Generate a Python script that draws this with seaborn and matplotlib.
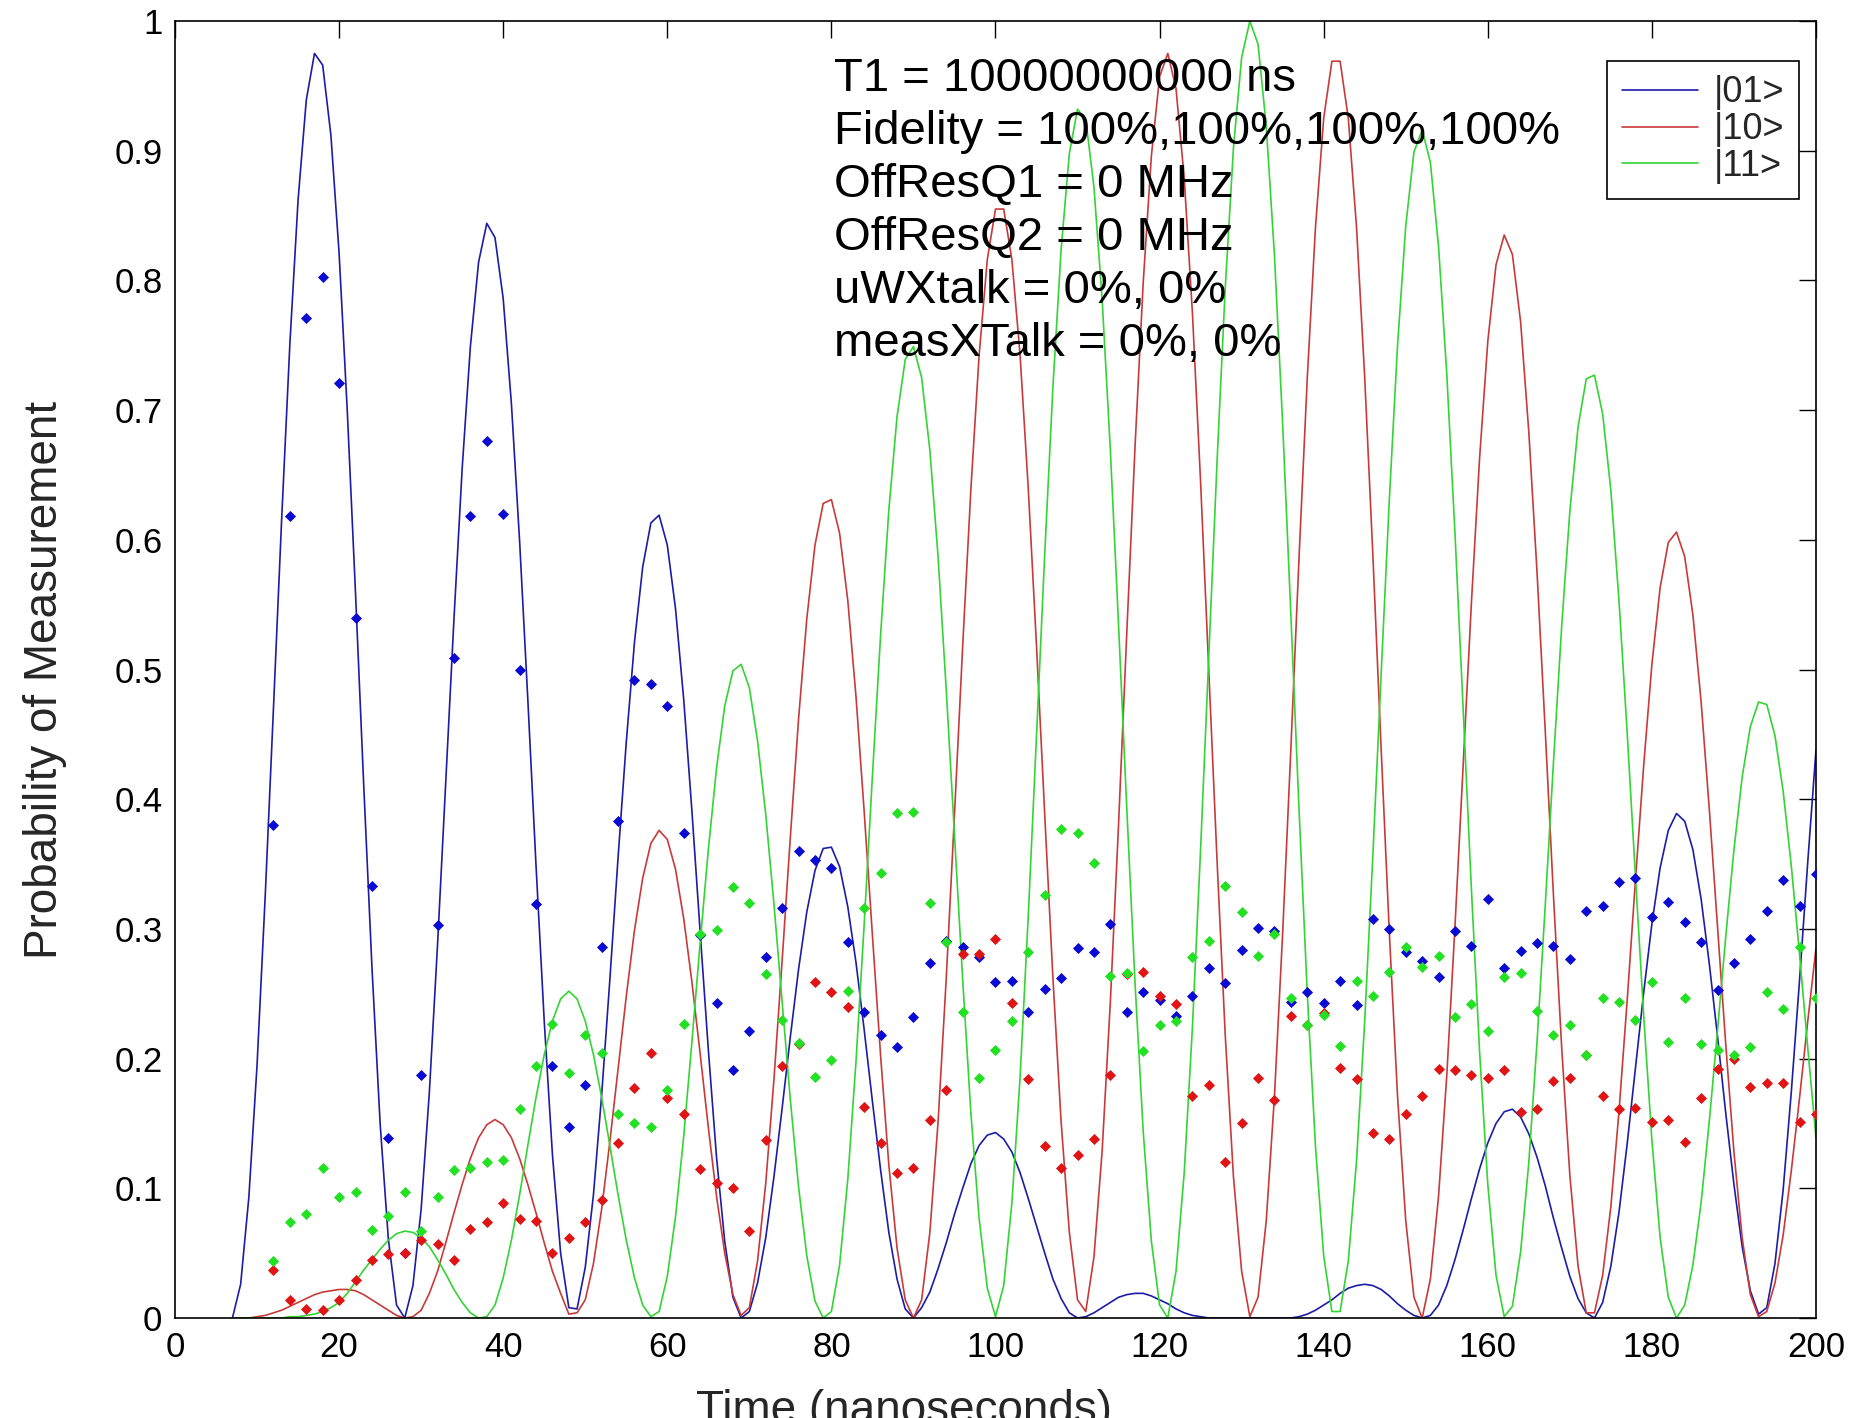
import numpy as np
import pandas as pd
import matplotlib
matplotlib.use("Agg")
import matplotlib.pyplot as plt
import seaborn as sns
from matplotlib.lines import Line2D

# ---------------- data ----------------
states = ["|01>", "|10>", "|11>"]

# simulated curves, t = 7 .. 200 ns (1 ns steps)
t_curve = list(range(7, 201))
p01_curve = [
    0.000, 0.026, 0.093, 0.195, 0.326, 0.470, 0.616, 0.751, 0.862, 0.939, 0.975,
    0.966, 0.912, 0.821, 0.699, 0.559, 0.411, 0.271, 0.150, 0.061, 0.010, 0.000,
    0.025, 0.084, 0.174, 0.288, 0.413, 0.539, 0.655, 0.749, 0.814, 0.844,
    0.833, 0.786, 0.705, 0.599, 0.477, 0.349, 0.229, 0.126, 0.050, 0.008,
    0.007, 0.039, 0.095, 0.172, 0.261, 0.355, 0.444, 0.521, 0.579, 0.613, 0.619,
    0.596, 0.547, 0.477, 0.391, 0.298, 0.207, 0.124, 0.059, 0.016, 0.000,
    0.005, 0.027, 0.062, 0.109, 0.162, 0.217, 0.269, 0.313, 0.345, 0.362, 0.363,
    0.348, 0.317, 0.274, 0.222, 0.167, 0.114, 0.066, 0.030, 0.007, 0.000,
    0.008, 0.020, 0.038, 0.058, 0.080, 0.100, 0.119, 0.133, 0.141, 0.143,
    0.138, 0.128, 0.112, 0.092, 0.071, 0.050, 0.030, 0.015, 0.004, 0.000,
    0.001, 0.004, 0.008, 0.012, 0.016, 0.018, 0.019, 0.019, 0.017, 0.014, 0.011,
    0.007, 0.004, 0.002, 0.001, 0.000, 0.000, 0.000, 0.000, 0.000, 0.000, 0.000,
    0.000, 0.000, 0.000, 0.000,
    0.001, 0.003, 0.006, 0.010, 0.014, 0.019, 0.023, 0.025, 0.026, 0.025, 0.022,
    0.017, 0.011, 0.006, 0.002, 0.000,
    0.002, 0.010, 0.025, 0.045, 0.068, 0.092, 0.115, 0.135, 0.150, 0.159, 0.161,
    0.155, 0.142, 0.124, 0.102, 0.077, 0.054, 0.032, 0.015, 0.004, 0.000,
    0.012, 0.040, 0.082, 0.135, 0.193, 0.251, 0.304, 0.347, 0.376, 0.389,
    0.383, 0.361, 0.323, 0.273, 0.217, 0.158, 0.103, 0.055, 0.021, 0.003,
    0.008, 0.042, 0.099, 0.175, 0.261, 0.352, 0.438,
]
p10_curve = [
    0.000, 0.000, 0.000, 0.001, 0.002, 0.004, 0.006, 0.009, 0.012, 0.015, 0.018,
    0.020, 0.021, 0.022, 0.022, 0.021, 0.018, 0.014, 0.010, 0.006, 0.002, 0.000,
    0.001, 0.006, 0.019, 0.036, 0.058, 0.081, 0.103, 0.123, 0.139, 0.149,
    0.153, 0.149, 0.139, 0.123, 0.103, 0.081, 0.058, 0.036, 0.019, 0.003,
    0.004, 0.014, 0.042, 0.084, 0.136, 0.192, 0.248, 0.299, 0.339, 0.366, 0.376,
    0.369, 0.346, 0.308, 0.259, 0.204, 0.147, 0.094, 0.050, 0.018, 0.002,
    0.008, 0.044, 0.104, 0.184, 0.276, 0.371, 0.462, 0.539, 0.596, 0.628, 0.631,
    0.605, 0.553, 0.479, 0.390, 0.295, 0.202, 0.118, 0.054, 0.014, 0.000,
    0.014, 0.066, 0.151, 0.262, 0.388, 0.518, 0.639, 0.742, 0.816, 0.855,
    0.855, 0.816, 0.742, 0.639, 0.518, 0.388, 0.262, 0.151, 0.066, 0.014,
    0.005, 0.047, 0.129, 0.244, 0.381, 0.528, 0.671, 0.798, 0.896, 0.957, 0.975,
    0.948, 0.879, 0.775, 0.644, 0.499, 0.353, 0.218, 0.109, 0.036, 0.001,
    0.016, 0.075, 0.171, 0.297, 0.439, 0.587, 0.725, 0.841, 0.925, 0.969, 0.969,
    0.925, 0.841, 0.725, 0.587, 0.439, 0.297, 0.171, 0.075, 0.016, 0.000,
    0.030, 0.094, 0.187, 0.302, 0.427, 0.551, 0.663, 0.753, 0.812, 0.835,
    0.820, 0.768, 0.683, 0.575, 0.453, 0.326, 0.209, 0.110, 0.040, 0.004,
    0.004, 0.033, 0.086, 0.160, 0.246, 0.338, 0.426, 0.504, 0.563, 0.598, 0.606,
    0.587, 0.542, 0.475, 0.392, 0.301, 0.211, 0.128, 0.062, 0.018, 0.001,
    0.005, 0.027, 0.064, 0.114, 0.170, 0.229, 0.285,
]
p11_curve = [
    0.000, 0.000, 0.000, 0.000, 0.000, 0.000,
    0.000, 0.001, 0.001, 0.002, 0.003, 0.005, 0.008, 0.012, 0.019, 0.028, 0.037,
    0.045, 0.053, 0.060, 0.065, 0.067, 0.066, 0.062, 0.055, 0.045, 0.034, 0.022,
    0.012, 0.004, 0.000,
    0.001, 0.010, 0.031, 0.060, 0.095, 0.133, 0.170, 0.203, 0.229, 0.246, 0.252,
    0.246, 0.229, 0.203, 0.170, 0.133, 0.095, 0.060, 0.031, 0.010, 0.001,
    0.005, 0.032, 0.078, 0.140, 0.213, 0.289, 0.361, 0.424, 0.472, 0.499, 0.504,
    0.486, 0.445, 0.388, 0.319, 0.243, 0.168, 0.101, 0.048, 0.013, 0.000,
    0.005, 0.041, 0.107, 0.198, 0.304, 0.418, 0.527, 0.623, 0.695, 0.739, 0.749,
    0.725, 0.669, 0.587, 0.484, 0.372, 0.261, 0.158, 0.077, 0.023, 0.001,
    0.025, 0.089, 0.186, 0.311, 0.449, 0.589, 0.718, 0.824, 0.898, 0.932, 0.924,
    0.872, 0.785, 0.669, 0.534, 0.393, 0.259, 0.144, 0.059, 0.010, 0.000,
    0.036, 0.112, 0.224, 0.362, 0.512, 0.660, 0.794, 0.902, 0.972, 1.000,
    0.982, 0.919, 0.819, 0.689, 0.542, 0.391, 0.250, 0.132, 0.048, 0.005,
    0.005, 0.044, 0.121, 0.229, 0.358, 0.496, 0.631, 0.750, 0.842, 0.899, 0.916,
    0.891, 0.826, 0.728, 0.605, 0.469, 0.331, 0.205, 0.103, 0.033, 0.001,
    0.009, 0.051, 0.120, 0.213, 0.318, 0.428, 0.533, 0.622, 0.687, 0.724, 0.727,
    0.697, 0.638, 0.552, 0.450, 0.340, 0.233, 0.137, 0.062, 0.016, 0.000,
    0.010, 0.041, 0.089, 0.152, 0.222, 0.294, 0.361, 0.417, 0.456, 0.475, 0.473,
    0.449, 0.406, 0.348, 0.280, 0.208, 0.139,
]

# measured points, t = 12 .. 200 ns (2 ns steps)
t_meas = list(range(12, 201, 2))
p01_meas = [
    0.380, 0.618, 0.771, 0.803, 0.721, 0.540, 0.333, 0.139, 0.050, 0.187,
    0.303, 0.509, 0.618, 0.676, 0.620, 0.500, 0.319, 0.194, 0.147, 0.180,
    0.286, 0.383, 0.492, 0.489, 0.472, 0.374, 0.295, 0.243, 0.191, 0.221,
    0.278, 0.316, 0.360, 0.353, 0.347, 0.290, 0.236, 0.218, 0.209, 0.232,
    0.274, 0.291, 0.286, 0.278, 0.259, 0.260, 0.236, 0.254, 0.262, 0.285,
    0.282, 0.304, 0.236, 0.251, 0.245, 0.233, 0.248, 0.270, 0.258, 0.284,
    0.301, 0.298, 0.244, 0.251, 0.243, 0.260, 0.241, 0.308, 0.300, 0.282,
    0.275, 0.263, 0.298, 0.287, 0.323, 0.270, 0.283, 0.289, 0.287, 0.277,
    0.314, 0.318, 0.336, 0.339, 0.309, 0.321, 0.305, 0.290, 0.253, 0.274,
    0.292, 0.314, 0.338, 0.318, 0.342,
]
p10_meas = [
    0.037, 0.014, 0.007, 0.006, 0.014, 0.029, 0.045, 0.049, 0.050, 0.060,
    0.057, 0.045, 0.069, 0.074, 0.089, 0.076, 0.075, 0.050, 0.062, 0.074,
    0.091, 0.135, 0.177, 0.204, 0.170, 0.157, 0.115, 0.104, 0.100, 0.067,
    0.137, 0.194, 0.211, 0.259, 0.251, 0.240, 0.163, 0.135, 0.112, 0.116,
    0.153, 0.176, 0.281, 0.281, 0.292, 0.243, 0.184, 0.133, 0.116, 0.126,
    0.138, 0.187, 0.265, 0.267, 0.248, 0.242, 0.171, 0.180, 0.120, 0.150,
    0.185, 0.168, 0.233, 0.226, 0.235, 0.193, 0.184, 0.143, 0.138, 0.157,
    0.171, 0.192, 0.191, 0.187, 0.185, 0.191, 0.159, 0.161, 0.183, 0.185,
    0.203, 0.171, 0.161, 0.162, 0.151, 0.153, 0.136, 0.170, 0.192, 0.200,
    0.178, 0.181, 0.181, 0.151, 0.157,
]
p11_meas = [
    0.044, 0.074, 0.080, 0.116, 0.093, 0.097, 0.068, 0.079, 0.097, 0.067,
    0.093, 0.114, 0.116, 0.120, 0.122, 0.161, 0.194, 0.227, 0.189, 0.218,
    0.204, 0.157, 0.150, 0.147, 0.176, 0.227, 0.296, 0.299, 0.332, 0.320,
    0.265, 0.230, 0.212, 0.186, 0.199, 0.252, 0.316, 0.343, 0.389, 0.390,
    0.320, 0.290, 0.236, 0.185, 0.207, 0.229, 0.282, 0.326, 0.377, 0.374,
    0.351, 0.264, 0.266, 0.206, 0.226, 0.229, 0.278, 0.291, 0.333, 0.313,
    0.279, 0.296, 0.247, 0.226, 0.234, 0.210, 0.260, 0.248, 0.267, 0.286,
    0.271, 0.279, 0.232, 0.242, 0.221, 0.263, 0.266, 0.237, 0.218, 0.226,
    0.203, 0.247, 0.244, 0.230, 0.259, 0.213, 0.247, 0.211, 0.207, 0.203,
    0.209, 0.251, 0.238, 0.286, 0.247,
]

x_ticks = list(range(0, 201, 20))
x_tick_labels = [str(v) for v in x_ticks]
y_ticks = [0, 0.1, 0.2, 0.3, 0.4, 0.5, 0.6, 0.7, 0.8, 0.9, 1]
y_tick_labels = ["0", "0.1", "0.2", "0.3", "0.4", "0.5", "0.6", "0.7", "0.8", "0.9", "1"]

info_lines = [
    "T1 = 10000000000 ns",
    "Fidelity = 100%,100%,100%,100%",
    "OffResQ1 = 0 MHz",
    "OffResQ2 = 0 MHz",
    "uWXtalk = 0%, 0%",
    "measXTalk = 0%, 0%",
]

# ---------------- styling ----------------
sns.set_style("white")
plt.rcParams["font.family"] = ["Liberation Sans", "DejaVu Sans"]

line_colors = {"|01>": "#1c1ca6", "|10>": "#c83a3a", "|11>": "#33d433"}
dot_colors = {"|01>": "#0a0ad2", "|10>": "#e01414", "|11>": "#22e022"}

curve_df = pd.concat([
    pd.DataFrame({"t": t_curve, "p": p01_curve, "state": "|01>"}),
    pd.DataFrame({"t": t_curve, "p": p10_curve, "state": "|10>"}),
    pd.DataFrame({"t": t_curve, "p": p11_curve, "state": "|11>"}),
], ignore_index=True)
meas = {"|01>": p01_meas, "|10>": p10_meas, "|11>": p11_meas}

fig = plt.figure(figsize=(18.53, 14.18), dpi=100)
fig.patch.set_facecolor("white")
ax = fig.add_axes([0.09444, 0.07052, 0.88559, 0.91467])

sns.lineplot(data=curve_df, x="t", y="p", hue="state", hue_order=states,
             palette=line_colors, estimator=None, sort=False, linewidth=1.2,
             ax=ax, legend=False, zorder=2)

for s in states:
    sns.scatterplot(x=t_meas, y=meas[s], color=dot_colors[s], marker="D",
                    s=32, linewidth=0, ax=ax, legend=False, zorder=3)

ax.set_xlim(0, 200)
ax.set_ylim(0, 1)
ax.set_xticks(x_ticks)
ax.set_xticklabels(x_tick_labels)
ax.set_yticks(y_ticks)
ax.set_yticklabels(y_tick_labels)
ax.tick_params(direction="in", length=12, width=1, top=True, right=True,
               labelsize=25, colors="black")
ax.tick_params(axis="x", pad=9)
ax.tick_params(axis="y", pad=9)
for sp in ax.spines.values():
    sp.set_color("black")
    sp.set_linewidth(1.2)
ax.grid(False)

ax.set_xlabel("Time (nanoseconds)", fontsize=33)
ax.xaxis.set_label_coords(0.444, -0.0547)
ax.set_ylabel("Probability of Measurement", fontsize=33)
ax.yaxis.set_label_coords(-0.0658, 0.492)

for i, line in enumerate(info_lines):
    yb = (1318 - (91 + 53 * i)) / 1297
    ax.text(0.4016, yb, line, transform=ax.transAxes, fontsize=34,
            ha="left", va="baseline", color="black", zorder=4)

handles = [Line2D([], [], color=line_colors[s], lw=1.2) for s in states]
leg = ax.legend(handles, states, loc="upper right",
                bbox_to_anchor=(1799 / 1853, 1 - 61 / 1418),
                bbox_transform=fig.transFigure, fontsize=26, frameon=True,
                fancybox=False, framealpha=1, edgecolor="black",
                handlelength=2.1, handletextpad=0.45, labelspacing=0.05,
                borderpad=0.4, borderaxespad=0)
leg.get_frame().set_linewidth(1.2)

fig.savefig("out.png", dpi=100, facecolor="white")
